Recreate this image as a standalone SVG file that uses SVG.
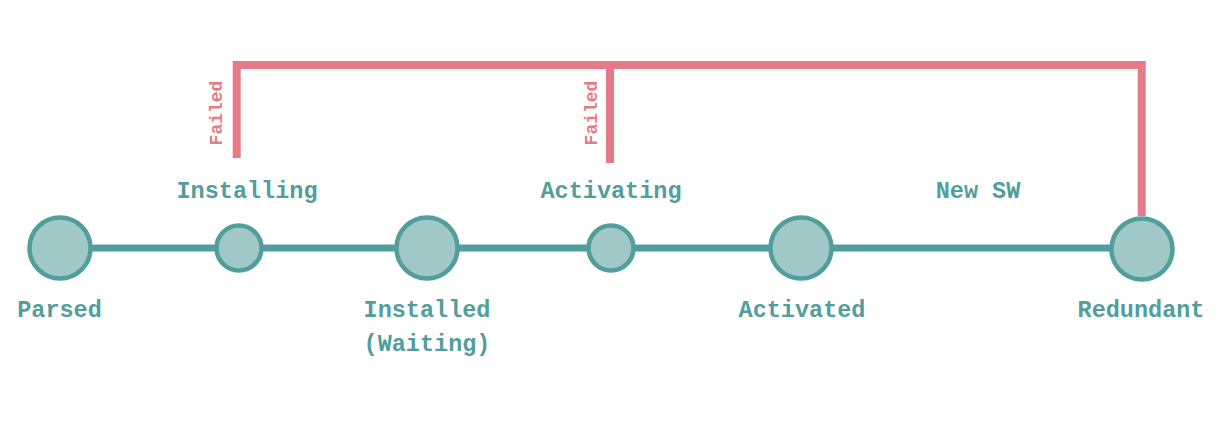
<svg xmlns="http://www.w3.org/2000/svg" width="1219" height="427" viewBox="0 0 1219 427">
<style>
.node{fill:#9fc8c6;stroke:#519e9d;stroke-width:4.5}
.lbl{font-family:"Liberation Mono","DejaVu Sans Mono",monospace;font-weight:bold;font-size:23.5px;fill:#519e9d;text-anchor:middle}
.fail{font-family:"Liberation Mono","DejaVu Sans Mono",monospace;font-weight:bold;font-size:18px;fill:#e57b86;text-anchor:middle}
.main{stroke:#519e9d;stroke-width:7;fill:none}
.err{stroke:#e57b86;stroke-width:8;fill:none;stroke-linejoin:miter}
</style>
<rect width="1219" height="427" fill="#ffffff"/>
<g id="connectors">
<path class="err" d="M236.7,158 V65 H1141.7 V216"/>
<path class="err" d="M610,163 V65"/>
<path class="main" d="M60,248 H1142"/>
<text class="fail" transform="translate(222,113) rotate(-90)">Failed</text>
<text class="fail" transform="translate(597,113) rotate(-90)">Failed</text>
<text class="lbl" x="247" y="198">Installing</text>
<text class="lbl" x="611" y="198">Activating</text>
<text class="lbl" x="978" y="198">New SW</text>
</g>
<g id="parsed">
<circle class="node" cx="60" cy="248" r="30.5"/>
<text class="lbl" x="59.5" y="317">Parsed</text>
</g>
<g id="installing">
<circle class="node" cx="239" cy="248" r="22.5"/>
</g>
<g id="installed">
<circle class="node" cx="427" cy="248" r="30.5"/>
<text class="lbl" x="427" y="317">Installed</text>
<text class="lbl" x="427" y="351">(Waiting)</text>
</g>
<g id="activating">
<circle class="node" cx="611" cy="248" r="22.5"/>
</g>
<g id="activated">
<circle class="node" cx="801" cy="248" r="30.5"/>
<text class="lbl" x="802" y="317">Activated</text>
</g>
<g id="redundant">
<circle class="node" cx="1142" cy="249" r="30.5"/>
<text class="lbl" x="1141" y="317">Redundant</text>
</g>
</svg>
